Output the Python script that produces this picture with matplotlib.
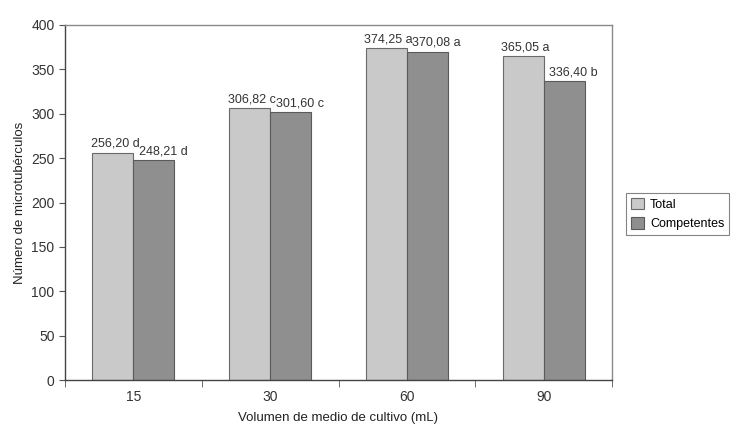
import matplotlib
matplotlib.use("Agg")
import matplotlib.pyplot as plt
import numpy as np

categories = ["15", "30", "60", "90"]
total = [256.20, 306.82, 374.25, 365.05]
competentes = [248.21, 301.60, 370.08, 336.40]
total_letters = ["d", "c", "a", "a"]
comp_letters = ["d", "c", "a", "b"]
series_names = ["Total", "Competentes"]

plt.rcParams['font.family'] = ['Liberation Sans', 'DejaVu Sans']

fig = plt.figure(figsize=(7.31, 4.34), dpi=100)
ax = fig.add_axes([65/731, 1 - 380/434, (612-65)/731, (380-25)/434])

x = np.arange(len(categories))
w = 0.3
c1, c2 = "#c9c9c9", "#8f8f8f"
b1 = ax.bar(x - w/2, total, w, color=c1, edgecolor="#6a6a6a", linewidth=0.8, label=series_names[0])
b2 = ax.bar(x + w/2, competentes, w, color=c2, edgecolor="#5a5a5a", linewidth=0.8, label=series_names[1])

def fmt(v, l):
    return f"{v:.2f}".replace(".", ",") + " " + l

for xi, v, l in zip(x - w, total, total_letters):
    ax.text(xi - 0.01, v + 3, fmt(v, l), ha="left", va="bottom", fontsize=9, color="#333333")
for xi, v, l in zip(x, competentes, comp_letters):
    ax.text(xi + 0.04, v + 3, fmt(v, l), ha="left", va="bottom", fontsize=9, color="#333333")

ax.set_xlim(-0.5, len(categories) - 0.5)
ax.set_ylim(0, 400)
ax.set_yticks(np.arange(0, 401, 50))
ax.set_xticks(x)
ax.set_xticklabels(categories)
ax.set_xticks(np.arange(-0.5, len(categories)), minor=True)
ax.tick_params(axis="x", which="major", length=0, pad=7, labelsize=10, colors="#333333")
ax.tick_params(axis="x", which="minor", length=5, color="#555555", direction="out")
ax.tick_params(axis="y", length=4, color="#555555", labelsize=10, colors="#333333")
for s in ax.spines.values():
    s.set_color("#8a8a8a")
    s.set_linewidth(1.0)
ax.spines["left"].set_color("#444444")
ax.spines["bottom"].set_color("#444444")

ax.set_ylabel("Número de microtubérculos", fontsize=9.5, color="#222222", labelpad=4)
ax.set_xlabel("Volumen de medio de cultivo (mL)", fontsize=9.5, color="#222222", labelpad=6)

leg = fig.legend(handles=[b1, b2], labels=series_names, loc="upper left",
                 bbox_to_anchor=(620/731, 1 - 187/434), frameon=True, fancybox=False,
                 fontsize=9, handlelength=1.0, handleheight=1.0, borderpad=0.4,
                 labelspacing=0.5, handletextpad=0.5)
leg.get_frame().set_edgecolor("#666666")
leg.get_frame().set_linewidth(0.8)

fig.savefig("out.png", dpi=100)
